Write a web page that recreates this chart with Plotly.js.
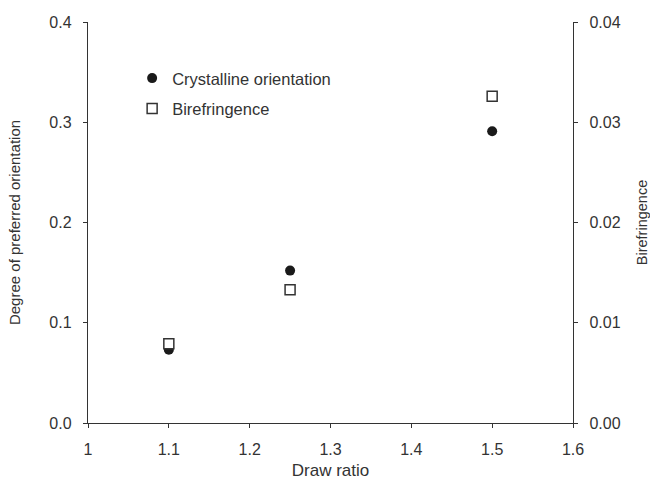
<!DOCTYPE html>
<html>
<head>
<meta charset="utf-8">
<script src="https://cdn.plot.ly/plotly-3.0.1.min.js"></script>
<style>html,body{margin:0;padding:0;background:#fff;}#chart{width:650px;height:480px;}</style>
</head>
<body>
<div id="chart"></div>
<script>
var drawRatio = [1.1, 1.25, 1.5];
var crystallineOrientation = [0.073, 0.152, 0.291];
var birefringence = [0.0079, 0.0133, 0.0326];
var xTitle = "Draw ratio";
var yTitle = "Degree of preferred orientation";
var y2Title = "Birefringence";
var seriesNames = ["Crystalline orientation", "Birefringence"];

var fontFam = "Liberation Sans, Arial, sans-serif";
var txt = "#333333";

var traces = [
  {
    x: drawRatio, y: crystallineOrientation, name: seriesNames[0],
    type: "scatter", mode: "markers", legendgroup: "a",
    marker: {symbol: "circle", size: 10, color: "#1a1a1a", line: {width: 0}}
  },
  {
    x: drawRatio, y: birefringence, name: seriesNames[1], yaxis: "y2",
    type: "scatter", mode: "markers", legendgroup: "b",
    marker: {symbol: "square", size: 10, color: "#ffffff", line: {width: 1.5, color: "#333333"}}
  }
];

var axisCommon = {
  showgrid: false, zeroline: false, showline: true, linecolor: "#333333", linewidth: 1.2,
  ticks: "outside", ticklen: 4, tickcolor: "#333333", tickwidth: 1,
  ticklabelstandoff: 8,
  tickfont: {family: fontFam, size: 16, color: txt}
};

var layout = {
  width: 650, height: 480,
  margin: {l: 88, r: 77, t: 22, b: 57},
  paper_bgcolor: "#ffffff", plot_bgcolor: "#ffffff",
  font: {family: fontFam, color: txt},
  showlegend: true,
  legend: {
    x: 0.091, y: 0.903, xanchor: "left", yanchor: "top",
    bgcolor: "rgba(0,0,0,0)", borderwidth: 0,
    font: {family: fontFam, size: 16.5, color: txt},
    tracegroupgap: 6, itemwidth: 30
  },
  xaxis: Object.assign({}, axisCommon, {
    range: [1, 1.6], dtick: 0.1, tick0: 1,
    title: {text: xTitle, font: {family: fontFam, size: 17, color: txt}, standoff: 13}
  }),
  yaxis: Object.assign({}, axisCommon, {
    range: [0, 0.4], dtick: 0.1, tickformat: ".1f",
    title: {text: yTitle, font: {family: fontFam, size: 15, color: txt}, standoff: 25}
  }),
  yaxis2: Object.assign({}, axisCommon, {
    range: [0, 0.04], dtick: 0.01, tickformat: ".2f",
    overlaying: "y", side: "right",
    title: {text: y2Title, font: {family: fontFam, size: 14.5, color: txt}, standoff: 26}
  })
};

Plotly.newPlot("chart", traces, layout, {displayModeBar: false, staticPlot: true});
</script>
</body>
</html>
